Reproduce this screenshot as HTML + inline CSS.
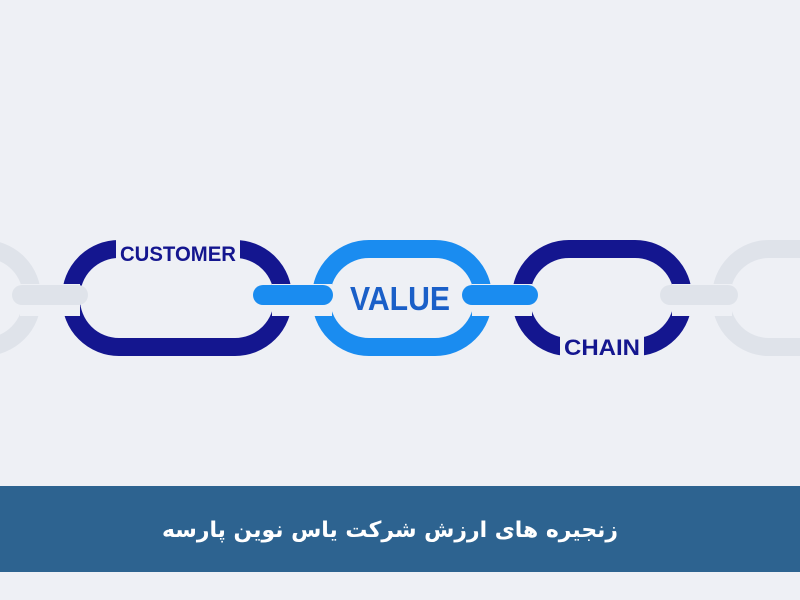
<!DOCTYPE html>
<html><head><style>
body{margin:0;width:800px;height:600px;overflow:hidden;background:#eef0f5;font-family:"Liberation Sans",sans-serif}
</style></head><body>
<svg width="800" height="600" style="position:absolute;left:0;top:0">
<rect width="800" height="600" fill="#eef0f5"/>
<g fill="none" stroke-width="18">
<rect x="-150" y="249" width="182" height="98" rx="48" stroke="#dfe3ea"/>
<rect x="721" y="249" width="182" height="98" rx="48" stroke="#dfe3ea"/>
<rect x="71" y="249" width="212" height="98" rx="48" stroke="#14168f"/>
<rect x="321" y="249" width="162" height="98" rx="48" stroke="#1a8cf0"/>
<rect x="521" y="249" width="162" height="98" rx="48" stroke="#14168f"/>
</g>
<g fill="#eef0f5">
<rect x="20" y="284" width="24" height="32"/><rect x="50" y="284" width="30" height="32"/>
<rect x="272" y="284" width="60" height="32"/><rect x="472" y="284" width="60" height="32"/>
<rect x="672" y="284" width="60" height="32"/>
<rect x="116" y="236" width="124" height="28"/>
<rect x="560" y="330" width="84" height="30"/>
</g>
<g stroke-linecap="round" stroke-width="20">
<line x1="22" y1="295" x2="78" y2="295" stroke="#dfe3ea"/>
<line x1="670" y1="295" x2="728" y2="295" stroke="#dfe3ea"/>
<line x1="263" y1="295" x2="323" y2="295" stroke="#1a8cf0"/>
<line x1="472" y1="295" x2="528" y2="295" stroke="#1a8cf0"/>
</g>
<g font-family="Liberation Sans,sans-serif" font-weight="bold">
<text x="178" y="261" text-anchor="middle" font-size="21" fill="#14168f" textLength="116" lengthAdjust="spacingAndGlyphs">CUSTOMER</text>
<text x="400" y="310" text-anchor="middle" font-size="33" fill="#1a5fc8" textLength="100" lengthAdjust="spacingAndGlyphs">VALUE</text>
<text x="602" y="355" text-anchor="middle" font-size="22" fill="#14168f" textLength="76" lengthAdjust="spacingAndGlyphs">CHAIN</text>
</g>
<rect x="0" y="486" width="800" height="86" fill="#2d6390"/>
<text x="390" y="537" text-anchor="middle" font-size="22" font-weight="bold" fill="#fff" font-family="DejaVu Sans,sans-serif" direction="rtl" textLength="456" lengthAdjust="spacingAndGlyphs">زنجیره های ارزش شرکت یاس نوین پارسه</text>
</svg>
</body></html>
